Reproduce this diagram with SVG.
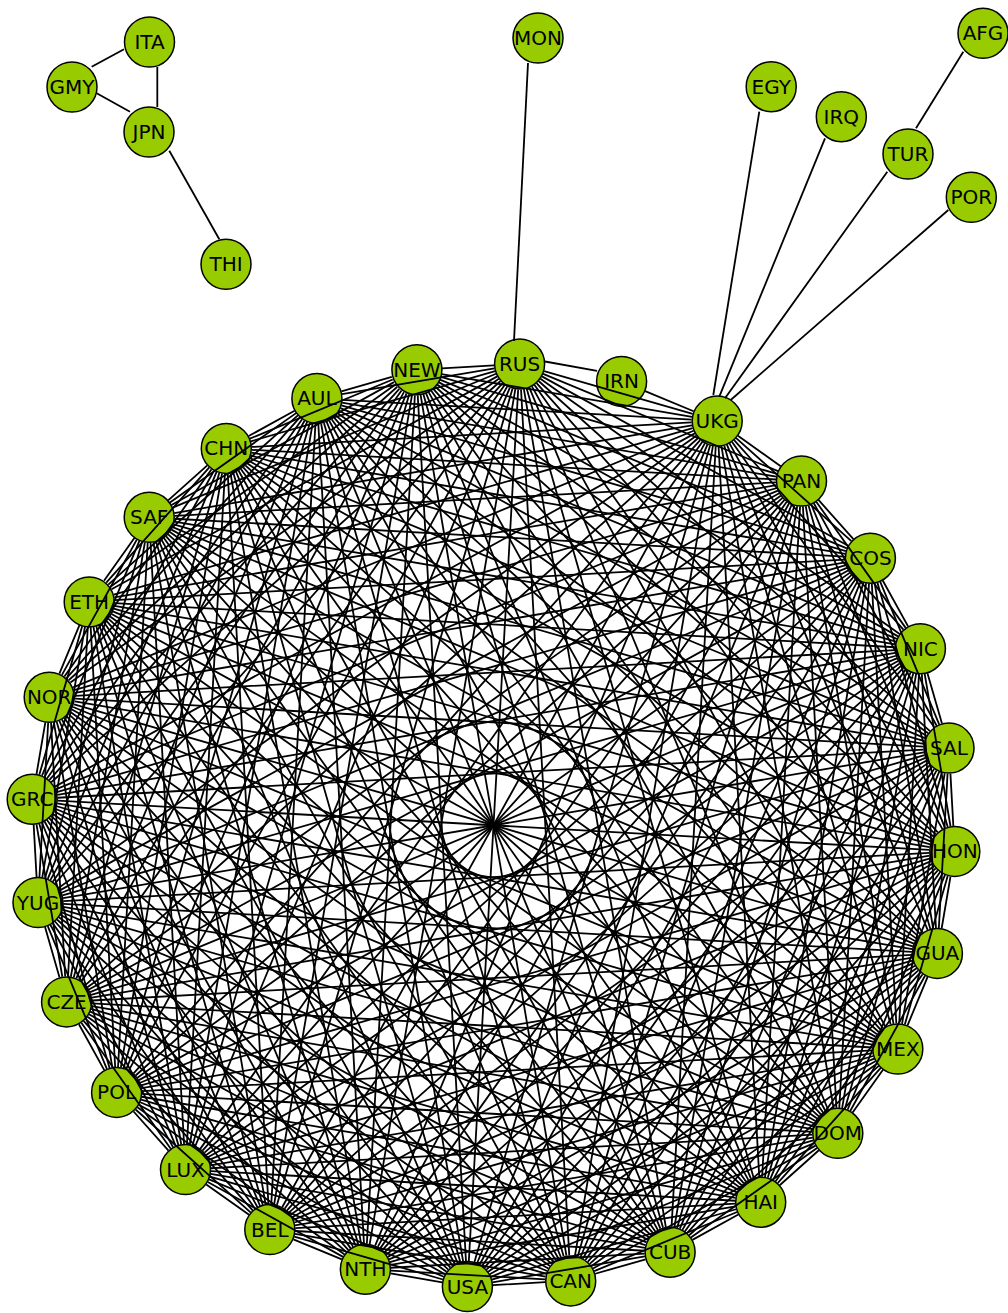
<svg xmlns="http://www.w3.org/2000/svg" xmlns:xlink="http://www.w3.org/1999/xlink" width="1008" height="1313" viewBox="0 0 1008 1313">
<style>
.n circle{fill:#99cc00;stroke:#000;stroke-width:1.5}
.n text{font-family:"DejaVu Sans","Liberation Sans",sans-serif;font-size:20px;text-anchor:middle;fill:#000}
</style>
<defs>
<line id="c1" x1="493.5" y1="363.3" x2="596.30" y2="374.88" stroke-dasharray="0 25.5 52.45 2000"/>
<line id="c2" x1="493.5" y1="363.3" x2="693.95" y2="409.05" stroke-dasharray="0 25.5 154.61 2000"/>
<line id="c3" x1="493.5" y1="363.3" x2="781.55" y2="464.09" stroke-dasharray="0 25.5 254.18 2000"/>
<line id="c4" x1="493.5" y1="363.3" x2="854.71" y2="537.25" stroke-dasharray="0 25.5 349.91 2000"/>
<line id="c5" x1="493.5" y1="363.3" x2="909.75" y2="624.85" stroke-dasharray="0 25.5 440.60 2000"/>
<line id="c6" x1="493.5" y1="363.3" x2="943.92" y2="722.50" stroke-dasharray="0 25.5 525.10 2000"/>
<line id="c7" x1="493.5" y1="363.3" x2="955.5" y2="825.3" stroke-dasharray="0 25.5 602.37 2000"/>
<line id="c8" x1="493.5" y1="363.3" x2="943.92" y2="928.10" stroke-dasharray="0 25.5 671.41 2000"/>
<line id="c9" x1="493.5" y1="363.3" x2="909.75" y2="1025.75" stroke-dasharray="0 25.5 731.37 2000"/>
<line id="c10" x1="493.5" y1="363.3" x2="854.71" y2="1113.35" stroke-dasharray="0 25.5 781.50 2000"/>
<line id="c11" x1="493.5" y1="363.3" x2="781.55" y2="1186.51" stroke-dasharray="0 25.5 821.15 2000"/>
<line id="c12" x1="493.5" y1="363.3" x2="693.95" y2="1241.55" stroke-dasharray="0 25.5 849.83 2000"/>
<line id="c13" x1="493.5" y1="363.3" x2="596.30" y2="1275.72" stroke-dasharray="0 25.5 867.19 2000"/>
<line id="c14" x1="493.5" y1="363.3" x2="493.5" y2="1287.3" stroke-dasharray="0 25.5 873 2000"/>
</defs>
<rect width="1008" height="1313" fill="#fff"/>
<g id="nodes">
<g id="ITA" class="n"><circle cx="149.5" cy="42" r="25"/><text x="149.5" y="49">ITA</text></g>
<g id="GMY" class="n"><circle cx="72" cy="87" r="25"/><text x="72" y="94">GMY</text></g>
<g id="JPN" class="n"><circle cx="149" cy="132" r="25"/><text x="149" y="139">JPN</text></g>
<g id="THI" class="n"><circle cx="226" cy="264.3" r="25"/><text x="226" y="271.3">THI</text></g>
<g id="MON" class="n"><circle cx="538" cy="38" r="25"/><text x="538" y="45">MON</text></g>
<g id="EGY" class="n"><circle cx="771.2" cy="86.7" r="25"/><text x="771.2" y="93.7">EGY</text></g>
<g id="IRQ" class="n"><circle cx="841.3" cy="116.7" r="25"/><text x="841.3" y="123.7">IRQ</text></g>
<g id="AFG" class="n"><circle cx="983" cy="33.3" r="25"/><text x="983" y="40.3">AFG</text></g>
<g id="TUR" class="n"><circle cx="908" cy="154" r="25"/><text x="908" y="161">TUR</text></g>
<g id="POR" class="n"><circle cx="971.3" cy="197.3" r="25"/><text x="971.3" y="204.3">POR</text></g>
<g id="RUS" class="n"><circle cx="519.6" cy="364.0" r="25"/><text x="519.6" y="371.0">RUS</text></g>
<g id="IRN" class="n"><circle cx="621.6" cy="381.4" r="25"/><text x="621.6" y="388.4">IRN</text></g>
<g id="UKG" class="n"><circle cx="717.2" cy="421.1" r="25"/><text x="717.2" y="428.1">UKG</text></g>
<g id="PAN" class="n"><circle cx="801.5" cy="481.0" r="25"/><text x="801.5" y="488.0">PAN</text></g>
<g id="COS" class="n"><circle cx="870.4" cy="558.2" r="25"/><text x="870.4" y="565.2">COS</text></g>
<g id="NIC" class="n"><circle cx="920.4" cy="648.7" r="25"/><text x="920.4" y="655.7">NIC</text></g>
<g id="SAL" class="n"><circle cx="949.0" cy="748.1" r="25"/><text x="949.0" y="755.1">SAL</text></g>
<g id="HON" class="n"><circle cx="954.8" cy="851.4" r="25"/><text x="954.8" y="858.4">HON</text></g>
<g id="GUA" class="n"><circle cx="937.4" cy="953.4" r="25"/><text x="937.4" y="960.4">GUA</text></g>
<g id="MEX" class="n"><circle cx="897.8" cy="1049.0" r="25"/><text x="897.8" y="1056.0">MEX</text></g>
<g id="DOM" class="n"><circle cx="837.8" cy="1133.3" r="25"/><text x="837.8" y="1140.3">DOM</text></g>
<g id="HAI" class="n"><circle cx="760.7" cy="1202.2" r="25"/><text x="760.7" y="1209.2">HAI</text></g>
<g id="CUB" class="n"><circle cx="670.1" cy="1252.2" r="25"/><text x="670.1" y="1259.2">CUB</text></g>
<g id="CAN" class="n"><circle cx="570.7" cy="1280.9" r="25"/><text x="570.7" y="1287.9">CAN</text></g>
<g id="USA" class="n"><circle cx="467.4" cy="1286.6" r="25"/><text x="467.4" y="1293.6">USA</text></g>
<g id="NTH" class="n"><circle cx="365.4" cy="1269.2" r="25"/><text x="365.4" y="1276.2">NTH</text></g>
<g id="BEL" class="n"><circle cx="269.8" cy="1229.5" r="25"/><text x="269.8" y="1236.5">BEL</text></g>
<g id="LUX" class="n"><circle cx="185.5" cy="1169.6" r="25"/><text x="185.5" y="1176.6">LUX</text></g>
<g id="POL" class="n"><circle cx="116.6" cy="1092.4" r="25"/><text x="116.6" y="1099.4">POL</text></g>
<g id="CZE" class="n"><circle cx="66.6" cy="1001.9" r="25"/><text x="66.6" y="1008.9">CZE</text></g>
<g id="YUG" class="n"><circle cx="38.0" cy="902.5" r="25"/><text x="38.0" y="909.5">YUG</text></g>
<g id="GRC" class="n"><circle cx="32.2" cy="799.2" r="25"/><text x="32.2" y="806.2">GRC</text></g>
<g id="NOR" class="n"><circle cx="49.2" cy="697.3" r="25"/><text x="49.2" y="704.3">NOR</text></g>
<g id="ETH" class="n"><circle cx="89.2" cy="601.9" r="25"/><text x="89.2" y="608.9">ETH</text></g>
<g id="SAF" class="n"><circle cx="149.2" cy="517.3" r="25"/><text x="149.2" y="524.3">SAF</text></g>
<g id="CHN" class="n"><circle cx="226.3" cy="448.4" r="25"/><text x="226.3" y="455.4">CHN</text></g>
<g id="AUL" class="n"><circle cx="316.9" cy="398.4" r="25"/><text x="316.9" y="405.4">AUL</text></g>
<g id="NEW" class="n"><circle cx="416.9" cy="369.7" r="25"/><text x="416.9" y="376.7">NEW</text></g>
</g>
<g id="edges" stroke="#000" stroke-width="1.8" fill="none">
<line x1="91.7" y1="66.7" x2="124" y2="49.3"/>
<line x1="96.7" y1="93.3" x2="130" y2="111.7"/>
<line x1="157.3" y1="67" x2="157.3" y2="107"/>
<line x1="169.3" y1="150.7" x2="219.3" y2="239.3"/>
<line x1="916" y1="128.3" x2="963.3" y2="51.7"/>
<line x1="759.3" y1="111.7" x2="713.3" y2="395"/>
<line x1="825" y1="138.3" x2="719.3" y2="396.7"/>
<line x1="887.3" y1="171.7" x2="725" y2="398.3"/>
<line x1="948.3" y1="210" x2="730.7" y2="400"/>
<line x1="528" y1="63" x2="514" y2="341"/>
<line x1="545" y1="361.5" x2="597" y2="370.8"/>
<g transform="rotate(3.24 493.5 825.3)"><use href="#c2"/><use href="#c3"/><use href="#c4"/><use href="#c5"/><use href="#c6"/><use href="#c7"/><use href="#c8"/><use href="#c9"/><use href="#c10"/><use href="#c11"/><use href="#c12"/><use href="#c13"/><use href="#c14"/></g>
<g transform="rotate(16.097 493.5 825.3)"><use href="#c1"/></g>
<g transform="rotate(28.954 493.5 825.3)"><use href="#c1"/><use href="#c2"/><use href="#c3"/><use href="#c4"/><use href="#c5"/><use href="#c6"/><use href="#c7"/><use href="#c8"/><use href="#c9"/><use href="#c10"/><use href="#c11"/><use href="#c12"/><use href="#c13"/><use href="#c14"/></g>
<g transform="rotate(41.811 493.5 825.3)"><use href="#c1"/><use href="#c2"/><use href="#c3"/><use href="#c4"/><use href="#c5"/><use href="#c6"/><use href="#c7"/><use href="#c8"/><use href="#c9"/><use href="#c10"/><use href="#c11"/><use href="#c12"/><use href="#c13"/><use href="#c14"/></g>
<g transform="rotate(54.669 493.5 825.3)"><use href="#c1"/><use href="#c2"/><use href="#c3"/><use href="#c4"/><use href="#c5"/><use href="#c6"/><use href="#c7"/><use href="#c8"/><use href="#c9"/><use href="#c10"/><use href="#c11"/><use href="#c12"/><use href="#c13"/><use href="#c14"/></g>
<g transform="rotate(67.526 493.5 825.3)"><use href="#c1"/><use href="#c2"/><use href="#c3"/><use href="#c4"/><use href="#c5"/><use href="#c6"/><use href="#c7"/><use href="#c8"/><use href="#c9"/><use href="#c10"/><use href="#c11"/><use href="#c12"/><use href="#c13"/><use href="#c14"/></g>
<g transform="rotate(80.383 493.5 825.3)"><use href="#c1"/><use href="#c2"/><use href="#c3"/><use href="#c4"/><use href="#c5"/><use href="#c6"/><use href="#c7"/><use href="#c8"/><use href="#c9"/><use href="#c10"/><use href="#c11"/><use href="#c12"/><use href="#c13"/><use href="#c14"/></g>
<g transform="rotate(93.24 493.5 825.3)"><use href="#c1"/><use href="#c2"/><use href="#c3"/><use href="#c4"/><use href="#c5"/><use href="#c6"/><use href="#c7"/><use href="#c8"/><use href="#c9"/><use href="#c10"/><use href="#c11"/><use href="#c12"/><use href="#c13"/><use href="#c14"/></g>
<g transform="rotate(106.097 493.5 825.3)"><use href="#c1"/><use href="#c2"/><use href="#c3"/><use href="#c4"/><use href="#c5"/><use href="#c6"/><use href="#c7"/><use href="#c8"/><use href="#c9"/><use href="#c10"/><use href="#c11"/><use href="#c12"/><use href="#c13"/><use href="#c14"/></g>
<g transform="rotate(118.954 493.5 825.3)"><use href="#c1"/><use href="#c2"/><use href="#c3"/><use href="#c4"/><use href="#c5"/><use href="#c6"/><use href="#c7"/><use href="#c8"/><use href="#c9"/><use href="#c10"/><use href="#c11"/><use href="#c12"/><use href="#c13"/><use href="#c14"/></g>
<g transform="rotate(131.811 493.5 825.3)"><use href="#c1"/><use href="#c2"/><use href="#c3"/><use href="#c4"/><use href="#c5"/><use href="#c6"/><use href="#c7"/><use href="#c8"/><use href="#c9"/><use href="#c10"/><use href="#c11"/><use href="#c12"/><use href="#c13"/><use href="#c14"/></g>
<g transform="rotate(144.669 493.5 825.3)"><use href="#c1"/><use href="#c2"/><use href="#c3"/><use href="#c4"/><use href="#c5"/><use href="#c6"/><use href="#c7"/><use href="#c8"/><use href="#c9"/><use href="#c10"/><use href="#c11"/><use href="#c12"/><use href="#c13"/><use href="#c14"/></g>
<g transform="rotate(157.526 493.5 825.3)"><use href="#c1"/><use href="#c2"/><use href="#c3"/><use href="#c4"/><use href="#c5"/><use href="#c6"/><use href="#c7"/><use href="#c8"/><use href="#c9"/><use href="#c10"/><use href="#c11"/><use href="#c12"/><use href="#c13"/><use href="#c14"/></g>
<g transform="rotate(170.383 493.5 825.3)"><use href="#c1"/><use href="#c2"/><use href="#c3"/><use href="#c4"/><use href="#c5"/><use href="#c6"/><use href="#c7"/><use href="#c8"/><use href="#c9"/><use href="#c10"/><use href="#c11"/><use href="#c12"/><use href="#c13"/><use href="#c14"/></g>
<g transform="rotate(183.24 493.5 825.3)"><use href="#c1"/><use href="#c2"/><use href="#c3"/><use href="#c4"/><use href="#c5"/><use href="#c6"/><use href="#c7"/><use href="#c8"/><use href="#c9"/><use href="#c10"/><use href="#c11"/><use href="#c12"/><use href="#c13"/></g>
<g transform="rotate(196.097 493.5 825.3)"><use href="#c1"/><use href="#c2"/><use href="#c3"/><use href="#c4"/><use href="#c5"/><use href="#c6"/><use href="#c7"/><use href="#c8"/><use href="#c9"/><use href="#c10"/><use href="#c11"/><use href="#c12"/><use href="#c13"/></g>
<g transform="rotate(208.954 493.5 825.3)"><use href="#c1"/><use href="#c2"/><use href="#c3"/><use href="#c4"/><use href="#c5"/><use href="#c6"/><use href="#c7"/><use href="#c8"/><use href="#c9"/><use href="#c10"/><use href="#c11"/><use href="#c12"/></g>
<g transform="rotate(221.811 493.5 825.3)"><use href="#c1"/><use href="#c2"/><use href="#c3"/><use href="#c4"/><use href="#c5"/><use href="#c6"/><use href="#c7"/><use href="#c8"/><use href="#c9"/><use href="#c10"/><use href="#c11"/><use href="#c13"/></g>
<g transform="rotate(234.669 493.5 825.3)"><use href="#c1"/><use href="#c2"/><use href="#c3"/><use href="#c4"/><use href="#c5"/><use href="#c6"/><use href="#c7"/><use href="#c8"/><use href="#c9"/><use href="#c10"/><use href="#c12"/><use href="#c13"/></g>
<g transform="rotate(247.526 493.5 825.3)"><use href="#c1"/><use href="#c2"/><use href="#c3"/><use href="#c4"/><use href="#c5"/><use href="#c6"/><use href="#c7"/><use href="#c8"/><use href="#c9"/><use href="#c11"/><use href="#c12"/><use href="#c13"/></g>
<g transform="rotate(260.383 493.5 825.3)"><use href="#c1"/><use href="#c2"/><use href="#c3"/><use href="#c4"/><use href="#c5"/><use href="#c6"/><use href="#c7"/><use href="#c8"/><use href="#c10"/><use href="#c11"/><use href="#c12"/><use href="#c13"/></g>
<g transform="rotate(273.24 493.5 825.3)"><use href="#c1"/><use href="#c2"/><use href="#c3"/><use href="#c4"/><use href="#c5"/><use href="#c6"/><use href="#c7"/><use href="#c9"/><use href="#c10"/><use href="#c11"/><use href="#c12"/><use href="#c13"/></g>
<g transform="rotate(286.097 493.5 825.3)"><use href="#c1"/><use href="#c2"/><use href="#c3"/><use href="#c4"/><use href="#c5"/><use href="#c6"/><use href="#c8"/><use href="#c9"/><use href="#c10"/><use href="#c11"/><use href="#c12"/><use href="#c13"/></g>
<g transform="rotate(298.954 493.5 825.3)"><use href="#c1"/><use href="#c2"/><use href="#c3"/><use href="#c4"/><use href="#c5"/><use href="#c7"/><use href="#c8"/><use href="#c9"/><use href="#c10"/><use href="#c11"/><use href="#c12"/><use href="#c13"/></g>
<g transform="rotate(311.811 493.5 825.3)"><use href="#c1"/><use href="#c2"/><use href="#c3"/><use href="#c4"/><use href="#c6"/><use href="#c7"/><use href="#c8"/><use href="#c9"/><use href="#c10"/><use href="#c11"/><use href="#c12"/><use href="#c13"/></g>
<g transform="rotate(324.669 493.5 825.3)"><use href="#c1"/><use href="#c2"/><use href="#c3"/><use href="#c5"/><use href="#c6"/><use href="#c7"/><use href="#c8"/><use href="#c9"/><use href="#c10"/><use href="#c11"/><use href="#c12"/><use href="#c13"/></g>
<g transform="rotate(337.526 493.5 825.3)"><use href="#c1"/><use href="#c2"/><use href="#c4"/><use href="#c5"/><use href="#c6"/><use href="#c7"/><use href="#c8"/><use href="#c9"/><use href="#c10"/><use href="#c11"/><use href="#c12"/><use href="#c13"/></g>
<g transform="rotate(350.383 493.5 825.3)"><use href="#c1"/><use href="#c3"/><use href="#c4"/><use href="#c5"/><use href="#c6"/><use href="#c7"/><use href="#c8"/><use href="#c9"/><use href="#c10"/><use href="#c11"/><use href="#c12"/><use href="#c13"/></g>
</g>
</svg>
